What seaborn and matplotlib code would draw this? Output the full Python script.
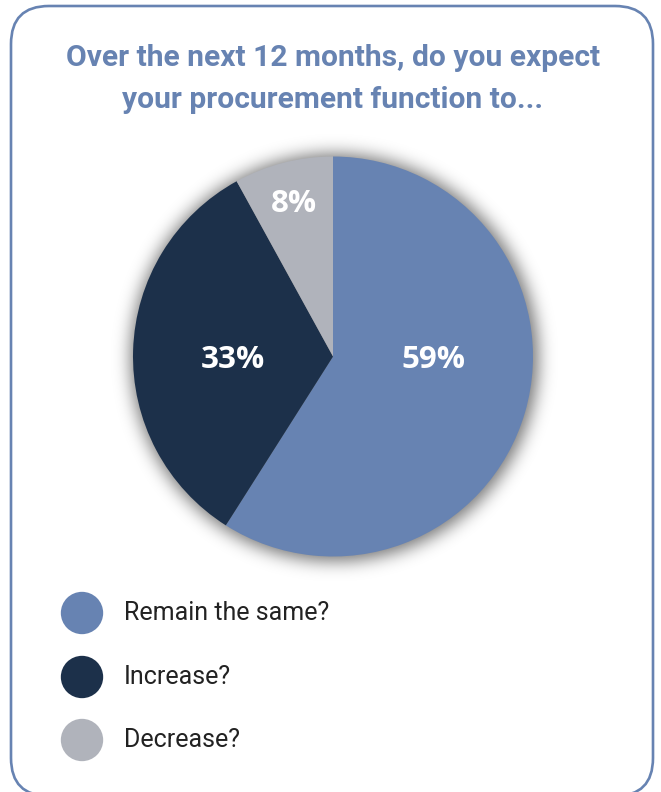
import numpy as np
import matplotlib
matplotlib.use("Agg")
import matplotlib.pyplot as plt
from matplotlib.patches import FancyBboxPatch
import seaborn as sns

# Survey answers
categories = ["Remain the same?", "Increase?", "Decrease?"]
shares = [59, 33, 8]
title_lines = ["Over the next 12 months, do you expect", "your procurement function to..."]

palette = ["#6783B2", "#1C304A", "#B0B3BB"]
accent = "#6783B2"

sns.set_theme(style="white")
plt.rcParams["font.family"] = ["Roboto", "DejaVu Sans"]

W, H = 661, 792
fig = plt.figure(figsize=(W / 100, H / 100), dpi=100)

# Full-figure overlay in pixel coordinates (y down)
bg = fig.add_axes([0, 0, 1, 1])
bg.set_xlim(0, W)
bg.set_ylim(H, 0)
bg.axis("off")

card = FancyBboxPatch((11, 6), 642, 790, boxstyle="round,pad=0,rounding_size=38",
                      fc="white", ec=accent, lw=1.9, zorder=0)
bg.add_patch(card)

bg.text(333, 58, title_lines[0], ha="center", va="center", fontsize=21.6,
        fontweight="bold", color=accent)
bg.text(333, 100, title_lines[1], ha="center", va="center", fontsize=21.6,
        fontweight="bold", color=accent)

# Legend rows
leg_y = [613, 677, 740]
sns.scatterplot(x=[82] * len(categories), y=leg_y, hue=categories, palette=palette,
                s=930, edgecolor="none", legend=False, ax=bg, zorder=3)
for y, lab in zip(leg_y, categories):
    bg.text(124, y, lab, ha="left", va="center", fontsize=18, color="#222222")

# Pie axis: center (333, 356.5) px, radius 200 px
cx, cy, r = 333, 356.5, 200
pad = 1.3
ax = fig.add_axes([(cx - r * pad) / W, 1 - (cy + r * pad) / H, 2 * r * pad / W, 2 * r * pad / H])
ax.axis("off")

# Soft drop shadow behind the pie
n = 520
g = np.linspace(-pad, pad, n)
xx, yy = np.meshgrid(g, g)
disk = (((xx - 0.008) ** 2 + (yy + 0.008) ** 2) <= 1.02 ** 2).astype(float)
sigma = 0.042 / (g[1] - g[0])
k = np.arange(-int(4 * sigma), int(4 * sigma) + 1)
kern = np.exp(-0.5 * (k / sigma) ** 2)
kern /= kern.sum()
blur = np.apply_along_axis(lambda v: np.convolve(v, kern, mode="same"), 0, disk)
blur = np.apply_along_axis(lambda v: np.convolve(v, kern, mode="same"), 1, blur)
rgba = np.zeros((n, n, 4))
rgba[..., 3] = blur * 0.55
ax.imshow(rgba, extent=(-pad, pad, -pad, pad), origin="lower", zorder=0,
          interpolation="bilinear")

wedges, _, autotexts = ax.pie(shares, colors=palette, startangle=90, counterclock=False,
                              autopct="%.0f%%", pctdistance=0.5,
                              wedgeprops=dict(linewidth=0, zorder=2),
                              textprops=dict(color="white", fontsize=22.5, fontweight="bold",
                                             family=["Open Sans", "DejaVu Sans"]))
for w in wedges:
    w.set_zorder(2)
label_pos = [(0.5, -0.015), (-0.5, -0.015), (-0.195, 0.765)]
for t, p in zip(autotexts, label_pos):
    t.set_position(p)
    t.set_zorder(4)

ax.set_xlim(-pad, pad)
ax.set_ylim(-pad, pad)
ax.set_aspect("equal")

fig.savefig("out.png", dpi=100)
